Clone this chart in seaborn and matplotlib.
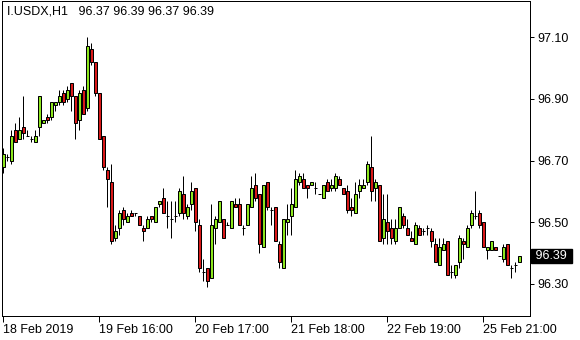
import numpy as np
import pandas as pd
import matplotlib
matplotlib.use("Agg")
import matplotlib.pyplot as plt
import matplotlib.transforms as mtransforms
import seaborn as sns

symbol = "I.USDX,H1"

opens = [96.68, 96.71, 96.70, 96.80, 96.77, 96.81, 96.78, 96.77, 96.76, 96.81,
         96.82, 96.84, 96.84, 96.88, 96.89, 96.92, 96.90, 96.95, 96.91, 96.83,
         96.93, 96.87, 97.06, 97.02, 96.92, 96.78, 96.67, 96.63, 96.45, 96.48,
         96.54, 96.50, 96.53, 96.53, 96.52, 96.48, 96.48, 96.52, 96.50, 96.56,
         96.58, 96.52, 96.51, 96.52, 96.53, 96.59, 96.52, 96.56, 96.61, 96.49,
         96.34, 96.35, 96.32, 96.48, 96.50, 96.51, 96.49, 96.48, 96.56, 96.56,
         96.48, 96.49, 96.55, 96.62, 96.59, 96.42, 96.63, 96.54, 96.55, 96.43,
         96.35, 96.50, 96.52, 96.55, 96.63, 96.64, 96.62, 96.62, 96.61, 96.59,
         96.58, 96.63, 96.61, 96.61, 96.64, 96.61, 96.60, 96.55, 96.53, 96.60,
         96.61, 96.63, 96.68, 96.61, 96.62, 96.45, 96.50, 96.48, 96.44, 96.48,
         96.52, 96.48, 96.45, 96.43, 96.48, 96.47, 96.48, 96.47, 96.43, 96.36,
         96.41, 96.44, 96.34, 96.33, 96.37, 96.44, 96.42, 96.49, 96.52, 96.53,
         96.50, 96.41, 96.41, 96.42, 96.39, 96.38, 96.43, 96.35, 96.36, 96.37]
highs = [96.74, 96.72, 96.80, 96.82, 96.84, 96.91, 96.80, 96.78, 96.80, 96.91,
         96.83, 96.85, 96.89, 96.89, 96.93, 96.93, 96.94, 96.95, 96.91, 96.93,
         96.94, 97.10, 97.08, 97.02, 96.92, 96.78, 96.68, 96.69, 96.49, 96.54,
         96.55, 96.53, 96.54, 96.53, 96.52, 96.49, 96.52, 96.52, 96.55, 96.57,
         96.61, 96.57, 96.57, 96.57, 96.61, 96.65, 96.56, 96.63, 96.61, 96.51,
         96.38, 96.35, 96.56, 96.52, 96.57, 96.51, 96.50, 96.57, 96.58, 96.58,
         96.49, 96.56, 96.65, 96.66, 96.59, 96.62, 96.63, 96.55, 96.55, 96.44,
         96.51, 96.56, 96.61, 96.67, 96.66, 96.66, 96.62, 96.63, 96.63, 96.59,
         96.62, 96.64, 96.64, 96.66, 96.65, 96.61, 96.62, 96.58, 96.63, 96.64,
         96.64, 96.70, 96.78, 96.64, 96.62, 96.59, 96.59, 96.51, 96.51, 96.55,
         96.53, 96.51, 96.47, 96.50, 96.49, 96.48, 96.49, 96.48, 96.45, 96.45,
         96.45, 96.44, 96.36, 96.36, 96.46, 96.45, 96.49, 96.54, 96.60, 96.54,
         96.50, 96.42, 96.44, 96.42, 96.39, 96.43, 96.43, 96.36, 96.37, 96.39]
lows = [96.66, 96.70, 96.69, 96.76, 96.77, 96.77, 96.78, 96.76, 96.76, 96.78,
        96.82, 96.82, 96.83, 96.86, 96.88, 96.88, 96.89, 96.86, 96.77, 96.80,
        96.85, 96.86, 97.01, 96.91, 96.77, 96.67, 96.55, 96.43, 96.44, 96.46,
        96.49, 96.50, 96.52, 96.52, 96.49, 96.44, 96.48, 96.50, 96.50, 96.55,
        96.53, 96.48, 96.45, 96.50, 96.52, 96.51, 96.51, 96.54, 96.47, 96.34,
        96.31, 96.29, 96.32, 96.43, 96.50, 96.45, 96.49, 96.48, 96.55, 96.49,
        96.46, 96.49, 96.55, 96.57, 96.40, 96.42, 96.54, 96.49, 96.44, 96.35,
        96.35, 96.46, 96.46, 96.55, 96.62, 96.61, 96.58, 96.62, 96.59, 96.59,
        96.58, 96.60, 96.60, 96.60, 96.62, 96.59, 96.53, 96.52, 96.53, 96.58,
        96.61, 96.62, 96.57, 96.57, 96.44, 96.43, 96.43, 96.43, 96.43, 96.48,
        96.48, 96.46, 96.44, 96.43, 96.46, 96.46, 96.46, 96.42, 96.37, 96.36,
        96.41, 96.33, 96.32, 96.32, 96.35, 96.38, 96.42, 96.48, 96.51, 96.48,
        96.42, 96.38, 96.41, 96.41, 96.39, 96.37, 96.36, 96.32, 96.34, 96.37]
closes = [96.72, 96.71, 96.78, 96.76, 96.80, 96.79, 96.78, 96.77, 96.78, 96.91,
          96.83, 96.83, 96.89, 96.89, 96.91, 96.89, 96.93, 96.91, 96.82, 96.92,
          96.85, 97.07, 97.02, 96.92, 96.77, 96.68, 96.64, 96.44, 96.47, 96.53,
          96.51, 96.52, 96.52, 96.53, 96.49, 96.47, 96.51, 96.51, 96.55, 96.57,
          96.53, 96.52, 96.51, 96.52, 96.60, 96.53, 96.55, 96.60, 96.50, 96.35,
          96.34, 96.31, 96.49, 96.51, 96.57, 96.45, 96.49, 96.57, 96.55, 96.49,
          96.48, 96.56, 96.61, 96.58, 96.43, 96.62, 96.55, 96.54, 96.44, 96.37,
          96.51, 96.51, 96.56, 96.64, 96.65, 96.61, 96.61, 96.63, 96.61, 96.59,
          96.62, 96.60, 96.62, 96.65, 96.62, 96.59, 96.54, 96.54, 96.59, 96.62,
          96.62, 96.69, 96.60, 96.63, 96.44, 96.51, 96.47, 96.45, 96.48, 96.55,
          96.49, 96.46, 96.44, 96.49, 96.46, 96.47, 96.48, 96.44, 96.37, 96.42,
          96.43, 96.33, 96.34, 96.36, 96.45, 96.43, 96.48, 96.53, 96.52, 96.49,
          96.42, 96.42, 96.44, 96.41, 96.39, 96.42, 96.36, 96.35, 96.36, 96.39]

time_labels = ["18 Feb 2019", "19 Feb 16:00", "20 Feb 17:00",
               "21 Feb 18:00", "22 Feb 19:00", "25 Feb 21:00"]
label_bars = [0, 24, 48, 72, 96, 120]
price_ticks = [96.30, 96.50, 96.70, 96.90, 97.10]

sns.set_style("white")
plt.rcParams["font.family"] = ["Liberation Sans", "DejaVu Sans"]

BULL = "#8CE61E"
BEAR = "#D81818"
PX = 0.72  # one pixel in points at 100 dpi

df = pd.DataFrame({"open": opens, "high": highs, "low": lows, "close": closes})
df["bar"] = np.arange(len(df))
df["bottom"] = df[["open", "close"]].min(axis=1)
df["height"] = (df["close"] - df["open"]).abs()
df["color"] = np.where(df["close"] > df["open"], BULL, BEAR)

fig = plt.figure(figsize=(5.8, 3.4), dpi=100)
ax = fig.add_axes([2 / 580, 24 / 340, 528 / 580, 315 / 340])

ax.vlines(df["bar"], df["low"], df["high"], color="black", linewidth=PX, zorder=2)
ax.bar(df["bar"], df["height"], bottom=df["bottom"], width=0.75,
       color=df["color"], edgecolor="black", linewidth=PX, zorder=3)

ax.set_xlim(-0.325, 131.675)
ax.set_ylim(96.196, 97.217)

ax.yaxis.tick_right()
ax.set_yticks(price_ticks)
ax.set_yticklabels([f"{v:.2f}" for v in price_ticks])
ax.set_xticks(label_bars)
ax.set_xticklabels(time_labels, ha="left")
ax.tick_params(axis="y", which="both", right=True, left=False, direction="out",
               length=3, width=PX, pad=2, labelsize=9, colors="black")
ax.tick_params(axis="x", which="both", bottom=True, direction="out",
               length=4, width=PX, pad=1.5, labelsize=9, colors="black")
for s in ax.spines.values():
    s.set_visible(True)
    s.set_color("black")
    s.set_linewidth(PX)
ax.grid(False)

last = df.iloc[-1]
trans = mtransforms.blended_transform_factory(ax.transAxes, ax.transData)
ax.text(1.004, last["close"], f" {last['close']:.2f} ", transform=trans,
        ha="left", va="center", color="white", fontsize=9, clip_on=False,
        bbox=dict(boxstyle="square,pad=0.1", facecolor="black", edgecolor="black"))

fig.text(7 / 580, 1 - 12 / 340,
         f"{symbol}   {last['open']:.2f} {last['high']:.2f} {last['low']:.2f} {last['close']:.2f}",
         ha="left", va="center", fontsize=9, color="black")

fig.savefig("out.png", dpi=100)
